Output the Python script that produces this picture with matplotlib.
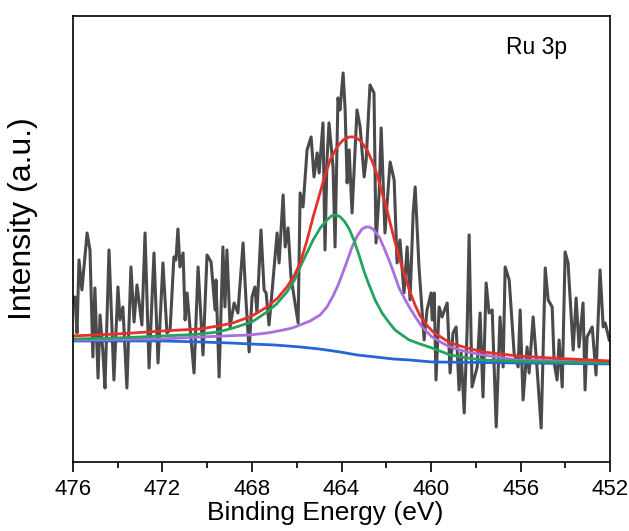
import numpy as np
import matplotlib
matplotlib.use("Agg")
import matplotlib.pyplot as plt
from matplotlib.ticker import MultipleLocator

plt.rcParams['font.family'] = ['Liberation Sans', 'DejaVu Sans']

# Raw Ru 3p spectrum (binding energy in eV, intensity in a.u.)
energy = [476.00, 475.91, 475.82, 475.73, 475.60, 475.37, 475.24, 475.11, 475.02, 474.88,
          474.79, 474.66, 474.57, 474.39, 474.17, 473.99, 473.90, 473.77, 473.59, 473.41,
          473.27, 473.14, 472.92, 472.78, 472.60, 472.38, 472.20, 471.98, 471.80, 471.66,
          471.49, 471.40, 471.31, 471.22, 471.08, 470.99, 470.90, 470.77, 470.59, 470.41,
          470.19, 470.01, 469.83, 469.65, 469.61, 469.47, 469.30, 469.21, 469.12, 468.98,
          468.80, 468.63, 468.40, 468.27, 468.13, 468.00, 467.87, 467.78, 467.60, 467.46,
          467.37, 467.24, 467.11, 466.88, 466.79, 466.61, 466.52, 466.39, 466.26, 466.08,
          465.94, 465.85, 465.72, 465.54, 465.36, 465.23, 465.09, 465.00, 464.83, 464.74,
          464.65, 464.56, 464.38, 464.29, 464.16, 464.07, 463.93, 463.84, 463.75, 463.66,
          463.53, 463.31, 463.17, 462.99, 462.90, 462.73, 462.55, 462.46, 462.32, 462.23,
          462.06, 461.83, 461.65, 461.52, 461.39, 461.21, 461.07, 460.94, 460.80, 460.71,
          460.54, 460.31, 460.18, 460.00, 459.95, 459.86, 459.78, 459.64, 459.51, 459.28,
          459.15, 459.02, 458.88, 458.75, 458.66, 458.52, 458.39, 458.30, 458.17, 457.94,
          457.81, 457.68, 457.54, 457.41, 457.27, 457.09, 456.92, 456.78, 456.69, 456.51,
          456.29, 456.11, 456.02, 455.89, 455.71, 455.62, 455.44, 455.26, 455.08, 454.90,
          454.77, 454.59, 454.50, 454.37, 454.28, 454.14, 454.01, 453.88, 453.65, 453.52,
          453.39, 453.21, 453.12, 453.03, 452.80, 452.63, 452.45, 452.31, 452.22, 452.04]
intensity = [160, 165, 129, 202, 172, 229, 212, 105, 174, 84,
             147, 109, 74, 212, 82, 175, 142, 155, 74, 195,
             140, 177, 137, 229, 94, 209, 99, 199, 129, 132,
             205, 202, 233, 195, 209, 142, 169, 134, 89, 195,
             107, 207, 200, 152, 182, 85, 215, 155, 212, 135,
             159, 149, 219, 162, 110, 165, 175, 149, 232, 172,
             169, 137, 169, 229, 199, 267, 215, 234, 185, 159,
             139, 269, 255, 312, 325, 285, 309, 289, 339, 212,
             302, 339, 295, 215, 364, 352, 389, 352, 279, 312,
             249, 352, 335, 285, 302, 377, 369, 219, 269, 334,
             229, 300, 282, 199, 222, 169, 215, 162, 249, 275,
             195, 122, 152, 169, 142, 169, 82, 155, 145, 159,
             89, 129, 135, 72, 109, 49, 132, 227, 75, 95,
             149, 65, 179, 149, 152, 35, 145, 95, 195, 182,
             109, 95, 152, 62, 115, 89, 145, 92, 34, 194,
             162, 155, 99, 82, 122, 75, 210, 199, 112, 164,
             115, 159, 72, 125, 135, 87, 192, 135, 139, 122]

# Shirley-type background
bg_energy = [476.00, 472.00, 470.30, 469.00, 468.10, 467.00, 465.85, 465.00, 464.07, 463.30,
             462.50, 461.70, 460.98, 459.96, 458.00, 456.02, 452.00]
bg_int = [121, 121, 120, 119, 118, 117, 115, 113, 110, 107,
          105, 103, 102, 100, 99.5, 99, 98]

# Component 1 (higher BE)
p1_energy = [476.00, 474.00, 472.00, 471.00, 470.30, 469.50, 468.84, 468.00, 467.33, 466.90,
             466.44, 466.10, 465.85, 465.55, 465.27, 464.95, 464.65, 464.45, 464.25, 464.05,
             463.85, 463.66, 463.45, 463.22, 463.00, 462.77, 462.50, 462.19, 461.90, 461.61,
             461.30, 460.98, 460.50, 459.96, 459.15, 458.40, 457.68, 456.50, 455.13, 452.00]
p1_int = [123, 124, 126, 127, 128, 130, 134, 140, 150, 158,
          170, 182, 195, 209, 222, 234, 242, 246, 247, 245,
          240, 233, 222, 207, 191, 177, 162, 149, 140, 132,
          127, 122, 118, 114, 107, 104, 102, 101, 100, 99]

# Component 2 (lower BE)
p2_energy = [476.00, 472.00, 470.30, 468.10, 467.30, 466.60, 466.20, 465.85, 465.40, 464.96,
             464.65, 464.38, 464.15, 463.98, 463.75, 463.53, 463.30, 463.08, 462.90, 462.77,
             462.60, 462.32, 462.10, 461.88, 461.65, 461.43, 461.20, 460.98, 460.70, 460.40,
             459.96, 459.50, 459.15, 458.40, 457.68, 456.16, 454.00, 452.00]
p2_int = [122, 123, 125, 127, 129, 132, 134, 137, 141, 147,
          155, 166, 177, 187, 201, 215, 226, 233, 235, 235,
          233, 225, 214, 202, 188, 174, 164, 155, 145, 135,
          125, 119, 115, 110, 107, 102, 101, 100]

# Envelope
env_energy = [476.00, 474.00, 471.98, 470.32, 469.50, 468.85, 468.00, 467.33, 466.85, 466.44,
              466.10, 465.85, 465.55, 465.27, 465.00, 464.75, 464.51, 464.20, 463.93, 463.65,
              463.40, 463.15, 462.86, 462.62, 462.41, 462.20, 461.97, 461.75, 461.52, 461.25,
              460.94, 460.70, 460.49, 460.20, 459.91, 459.50, 459.15, 458.40, 457.68, 456.90,
              456.16, 454.68, 452.00]
env_int = [126, 128, 131, 133, 136, 139, 146, 155, 164, 175,
           187, 199, 221, 245, 266, 286, 302, 315, 322, 325,
           325, 321, 312, 300, 287, 270, 252, 232, 212, 191,
           170, 156, 146, 137, 130, 124, 119, 114, 110, 108,
           106, 104, 101]

fig = plt.figure(figsize=(6.29, 5.31), dpi=100)
ax = fig.add_axes([0.116, 0.130, 0.854, 0.840])

ax.plot(energy, intensity, color='#4a4a4a', lw=2.2, solid_joinstyle='round')
ax.plot(bg_energy, bg_int, color='#2266d8', lw=2.0)
ax.plot(p2_energy, p2_int, color='#a86fe0', lw=2.0)
ax.plot(p1_energy, p1_int, color='#25a35a', lw=2.0)
ax.plot(env_energy, env_int, color='#e5302c', lw=2.0)

ax.set_xlim(476, 452)
ax.set_ylim(0, 446)
ax.xaxis.set_major_locator(MultipleLocator(4))
ax.xaxis.set_minor_locator(MultipleLocator(2))
ax.tick_params(axis='x', which='major', direction='out', length=7, width=1.2,
               labelsize=16, pad=5)
ax.tick_params(axis='x', which='minor', direction='out', length=4, width=1.2)
ax.set_yticks([])
for s in ax.spines.values():
    s.set_linewidth(1.2)

ax.set_xlabel('Binding Energy (eV)', fontsize=19)
ax.set_ylabel('Intensity (a.u.)', fontsize=23)
ax.xaxis.set_label_coords(0.469, -0.087)
ax.yaxis.set_label_coords(-0.065, 0.545)
ax.text(0.92, 0.93, 'Ru 3p', transform=ax.transAxes, ha='right', va='center', fontsize=16.5)

fig.savefig('out.png', dpi=100)
